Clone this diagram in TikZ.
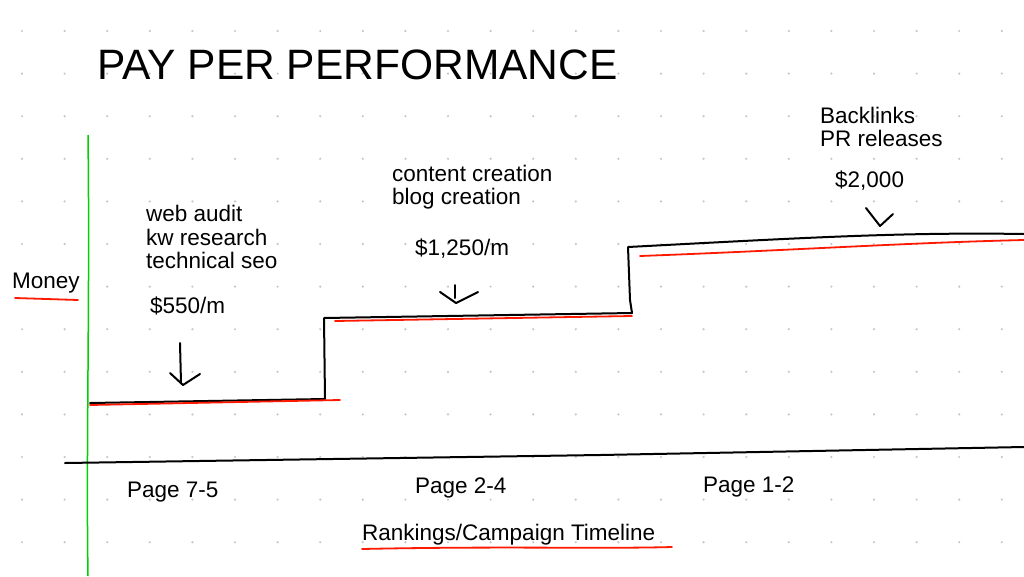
\documentclass[tikz,border=0pt]{standalone}
\usepackage{fontspec}
\setmainfont{Liberation Sans}
\begin{document}
\begin{tikzpicture}[x=1pt,y=-1pt,
  ink/.style={line width=2pt,line cap=round,line join=round},
  redl/.style={line width=1.8pt,red!80!orange,line cap=round},
  lbl/.style={anchor=west,inner sep=0pt,font=\fontsize{22.5}{23.5}\selectfont,align=left}]
\useasboundingbox (0,0) rectangle (1024,576);
\fill[white] (0,0) rectangle (1024,576);
\foreach \i in {0,...,23}{\foreach \j in {0,...,13}{
  \fill[gray!45] (22+42.6*\i,31+42.6*\j) circle (1.2pt);}}
\node[lbl,font=\fontsize{42.5}{45}\selectfont] (title) at (97,65) {PAY PER PERFORMANCE};
% axes
\draw[green!70!black!60!green,line width=1.5pt] (88,135) .. controls (90,300) and (86,450) .. (88,576);
\draw[ink] (65,463) -- (600,455) -- (1024,447);
% steps
\draw[ink] (90,403) -- (325,399) -- (324,318) -- (632,313) -- (630,300) -- (628,247) .. controls (800,238) and (900,232) .. (1024,234);
\draw[redl] (90,405) -- (340,400);
\draw[redl] (335,321) -- (632,316);
\draw[redl] (640,256) .. controls (800,250) and (900,243) .. (1024,240);
% arrows
\draw[ink] (180,343) -- (181,383);
\draw[ink] (170,373) -- (183,385) -- (200,374);
\draw[ink] (455,285) -- (455,298);
\draw[ink] (440,292) -- (456,303) -- (478,292);
\draw[ink] (866,208) -- (880,226) -- (893,214);
% labels
\node[lbl] (t1) at (146,237) {web audit\\kw research\\technical seo};
\node[lbl] (p1) at (150,306) {\$550/m};
\node[lbl] (t2) at (392,187) {content creation\\blog creation};
\node[lbl] (p2) at (415,249) {\$1,250/m};
\node[lbl] (t3) at (820,127) {Backlinks\\PR releases};
\node[lbl] (p3) at (835,181) {\$2,000};
\node[lbl] (money) at (12,283) {Money};
\draw[redl] (15,298) -- (78,300);
\node[lbl] (x1) at (127,492) {Page 7-5};
\node[lbl] (x2) at (415,488) {Page 2-4};
\node[lbl] (x3) at (703,487) {Page 1-2};
\node[lbl] (xl) at (362,535) {Rankings/Campaign Timeline};
\draw[redl] (362,549) .. controls (500,546) and (600,549) .. (672,547);
\end{tikzpicture}
\end{document}
